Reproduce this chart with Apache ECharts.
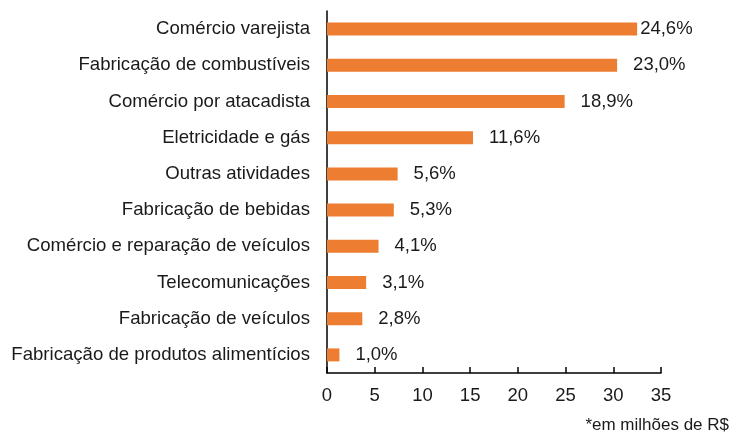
<!DOCTYPE html>
<html>
<head>
    <meta charset="utf-8">
    <title>Setores</title>
    <script src="https://cdn.jsdelivr.net/npm/echarts@6/dist/echarts.min.js"></script>
    <style>
        html, body { margin: 0; padding: 0; background: #fff; }
        #main { width: 735px; height: 434px; }
    </style>
</head>
<body>
    <div id="main"></div>
    <script type="text/javascript">
        // categorias (de baixo para cima, como no eixo)
        var setores = [
            'Fabricação de produtos alimentícios',
            'Fabricação de veículos',
            'Telecomunicações',
            'Comércio e reparação de veículos',
            'Fabricação de bebidas',
            'Outras atividades',
            'Eletricidade e gás',
            'Comércio por atacadista',
            'Fabricação de combustíveis',
            'Comércio varejista'
        ];
        // valores (em milhões de R$)
        var valores = [1.3, 3.7, 4.1, 5.4, 7.0, 7.4, 15.3, 24.9, 30.4, 32.5];
        // rótulos em percentual
        var percentuais = ['1,0%', '2,8%', '3,1%', '4,1%', '5,3%', '5,6%', '11,6%', '18,9%', '23,0%', '24,6%'];
        var ticksX = [0, 5, 10, 15, 20, 25, 30, 35];

        var myChart = echarts.init(document.getElementById('main'));

        var fonte = '"Liberation Sans", Arial, sans-serif';

        var option = {
            animation: false,
            backgroundColor: '#fff',
            grid: { left: 327, right: 74, top: 11, bottom: 61 },
            xAxis: {
                type: 'value',
                min: ticksX[0],
                max: ticksX[ticksX.length - 1],
                interval: 5,
                splitLine: { show: false },
                axisLine: { show: true, lineStyle: { color: '#000', width: 1.5 } },
                axisTick: { show: true, inside: true, length: 6, lineStyle: { color: '#000', width: 1.5 } },
                axisLabel: { color: '#1a1a1a', fontSize: 18.5, fontFamily: fonte, margin: 13 }
            },
            yAxis: {
                type: 'category',
                data: setores,
                axisLine: { show: true, lineStyle: { color: '#000', width: 1.5 } },
                axisTick: { show: false },
                axisLabel: { color: '#1a1a1a', fontSize: 18.6, fontFamily: fonte, margin: 17 }
            },
            series: [{
                type: 'bar',
                barWidth: 13,
                itemStyle: { color: '#ED7D31' },
                label: {
                    show: true,
                    position: 'right',
                    distance: 16,
                    color: '#1a1a1a',
                    fontSize: 18.5,
                    fontFamily: fonte,
                    formatter: function (p) { return percentuais[p.dataIndex]; }
                },
                data: valores.map(function (v, i) {
                    // o rótulo do maior valor fica colado na barra
                    return i === valores.length - 1 ? { value: v, label: { distance: 3 } } : v;
                })
            }],
            graphic: [{
                type: 'text',
                right: 6,
                top: 417,
                style: { text: '*em milhões de R$', fill: '#1a1a1a', font: '17px ' + fonte }
            }]
        };

        myChart.setOption(option);
    </script>
</body>
</html>
